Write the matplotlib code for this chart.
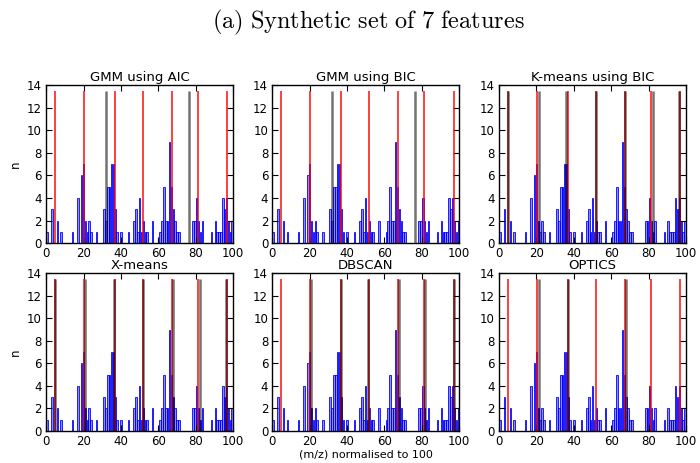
import matplotlib
matplotlib.use("Agg")
import matplotlib.pyplot as plt

# Histogram of (m/z) values (bin centre, count) - same in every panel
bin_centres = [0.5, 3, 6, 8, 14, 17, 19, 20, 21, 22, 23, 24, 27,
               31, 32, 33, 34, 35, 36, 37, 38, 40, 44,
               47, 48, 49, 50, 51, 52, 53, 54, 57,
               61, 62, 63, 64, 65, 66, 67, 68, 69, 70, 71,
               78.5, 79.5, 80.5, 81.5, 82.5, 83.5, 88.5,
               90.5, 91.5, 92.5, 93.5, 94.5, 95.5, 96.5, 97.5, 98.5, 99.5]
counts = [1, 3, 2, 1, 1, 4, 6, 7, 2, 1, 2, 1, 1,
          3, 2, 5, 5, 7, 7, 3, 1, 1, 1,
          2, 3, 1, 4, 1, 2, 1, 1, 2,
          1, 2, 5, 2, 2, 9, 5, 3, 2, 1, 1,
          2, 2, 4, 2, 1, 2, 1,
          2, 1, 1, 1, 4, 3, 4, 2, 1, 2]

# True feature positions (red)
true_features = [4.7, 20.3, 36.9, 51.7, 67.5, 81.4, 97.0]

# Detected cluster centres per method (black)
titles = ["GMM using AIC", "GMM using BIC", "K-means using BIC",
          "X-means", "DBSCAN", "OPTICS"]
found_gmm_aic = [31.9, 76.4]
found_gmm_bic = [31.9, 76.4]
found_kmeans_bic = [4.8, 21.1, 36.0, 51.7, 67.5, 82.3, 96.2]
found_xmeans = [4.6, 20.9, 36.3, 51.8, 67.8, 82.4, 96.3]
found_dbscan = [20.9, 36.5, 51.0, 67.6, 81.8, 97.2]
found_optics = [21.3, 36.9, 68.1]
found = [found_gmm_aic, found_gmm_bic, found_kmeans_bic,
         found_xmeans, found_dbscan, found_optics]

line_top = 13.5
x_ticks = [0, 20, 40, 60, 80, 100]
y_ticks = [0, 2, 4, 6, 8, 10, 12, 14]

plt.rcParams['mathtext.fontset'] = 'cm'
fig = plt.figure(figsize=(7, 4.63), dpi=100)
fig.patch.set_facecolor('white')

lefts = [0.066, 0.389, 0.713]
bottoms = [0.475, 0.069]
w, h = 0.267, 0.341

for i, (title, fnd) in enumerate(zip(titles, found)):
    r, c = divmod(i, 3)
    ax = fig.add_axes([lefts[c], bottoms[r], w, h])
    ax.bar(bin_centres, counts, width=0.8, color=(0, 0, 1, 0.45),
           edgecolor=(0, 0, 1, 0.85), linewidth=0.7, zorder=1)
    ax.vlines(true_features, 0, line_top, colors='r', alpha=0.75,
              linewidth=1.4, zorder=2)
    ax.vlines(fnd, 0, line_top, colors='k', alpha=0.55,
              linewidth=1.8, zorder=3)
    ax.set_xlim(0, 100)
    ax.set_ylim(0, 14)
    ax.set_xticks(x_ticks)
    ax.set_yticks(y_ticks)
    ax.tick_params(direction='in', top=True, right=True, labelsize=8.5,
                   length=4, width=0.8, pad=3)
    ax.set_title(title, fontsize=9.5, pad=3)
    for s in ax.spines.values():
        s.set_linewidth(1.0)
    if c == 0:
        ax.set_ylabel('n', fontsize=8.5, labelpad=4)
    if i == 4:
        ax.set_xlabel('(m/z) normalised to 100', fontsize=8, labelpad=1)

fig.text(0.526, 0.952, r'$\mathrm{(a)\ Synthetic\ set\ of\ 7\ features}$',
         ha='center', va='center', fontsize=17.5)

fig.savefig('out.png', dpi=100, facecolor='white')
